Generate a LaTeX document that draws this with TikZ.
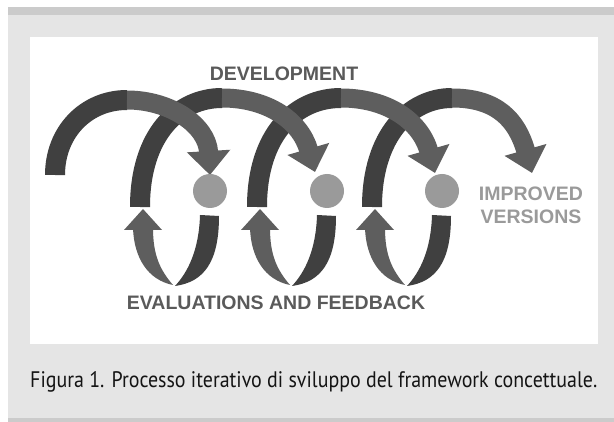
\documentclass[tikz,border=0pt]{standalone}
\usepackage{fontspec}
\setmainfont{Liberation Sans}
\newfontfamily\capfont{PT Sans}
\usetikzlibrary{arrows.meta}
\definecolor{bandgray}{HTML}{E5E5E5}
\definecolor{stripgray}{HTML}{CBCBCB}
\definecolor{ribdark}{HTML}{404040}
\definecolor{ribmid}{HTML}{5E5E5E}
\definecolor{dotgray}{HTML}{9A9A9A}
\definecolor{labdark}{HTML}{5A5A5A}
\definecolor{lablight}{HTML}{9A9A9A}
\definecolor{captext}{HTML}{141414}
\tikzset{
  rise/.style={draw=ribdark, line width=20pt},
  fall/.style={draw=ribmid, line width=19pt, -{Triangle[width=42pt,length=24pt]}},
  dot/.style={circle, fill=dotgray, minimum size=34pt, inner sep=0pt},
  lab/.style={font=\bfseries\fontsize{19.5}{23}\selectfont, inner sep=0pt, anchor=base}
}
\begin{document}
\begin{tikzpicture}[x=1pt,y=-1pt]
\useasboundingbox (0,0) rectangle (614,422);
\fill[bandgray] (8,7) rectangle (614,418);
\fill[stripgray] (8,7) rectangle (614,15);
\fill[stripgray] (8,418) rectangle (614,422);
\fill[white] (30,37) rectangle (598,344);

% rising (back) parts of the development arcs
\draw[rise] (55,175) .. controls (55,132) and (86,100) .. (127,100);
\draw[rise] (140,207) .. controls (140,135) and (178,98) .. (222,98);
\draw[rise] (257,207) .. controls (257,135) and (295,98) .. (341,98);
\draw[rise] (372,207) .. controls (372,135) and (410,98) .. (452,98);

% descending (front) parts with arrowheads
\draw[fall] (127,100) .. controls (170,100) and (207,125) .. (210,175);
\draw[fall] (222,98) .. controls (267,98) and (300,120) .. (315,172);
\draw[fall] (341,98) .. controls (386,98) and (420,120) .. (435,173);
\draw[fall] (452,98) .. controls (497,98) and (517,120) .. (532,173);

% version dots
\node[dot] (c1) at (210,191) {};
\node[dot] (c2) at (327,191) {};
\node[dot] (c3) at (442,191) {};

% feedback loops
\foreach \cx in {210,327,442} {
  \fill[ribdark] ({\cx-10},215) -- ({\cx+9},216)
     .. controls ({\cx+9},262) and ({\cx-6},282) .. ({\cx-35},286)
     .. controls ({\cx-22},272) and ({\cx-11},250) .. ({\cx-10},215) -- cycle;
  \fill[ribmid] ({\cx-77},228)
     .. controls ({\cx-76},258) and ({\cx-62},280) .. ({\cx-37},285)
     .. controls ({\cx-50},270) and ({\cx-57},255) .. ({\cx-57},228) -- cycle;
  \fill[ribmid] ({\cx-86},230) -- ({\cx-48},230) -- ({\cx-67},209) -- cycle;
}

% labels
\node[lab, text=labdark] (dev) at (284,81) {DEVELOPMENT};
\node[lab, text=labdark] (eval) at (276,309.5) {EVALUATIONS AND FEEDBACK};
\node[lab, text=lablight] (impr) at (531,200.5) {IMPROVED};
\node[lab, text=lablight] (vers) at (531,223.5) {VERSIONS};

% caption
\node[anchor=base west, inner sep=0pt, text=captext] (cap) at (30,388)
  {\resizebox{567pt}{16pt}{\capfont Figura 1. Processo iterativo di sviluppo del framework concettuale.}};
\end{tikzpicture}
\end{document}
